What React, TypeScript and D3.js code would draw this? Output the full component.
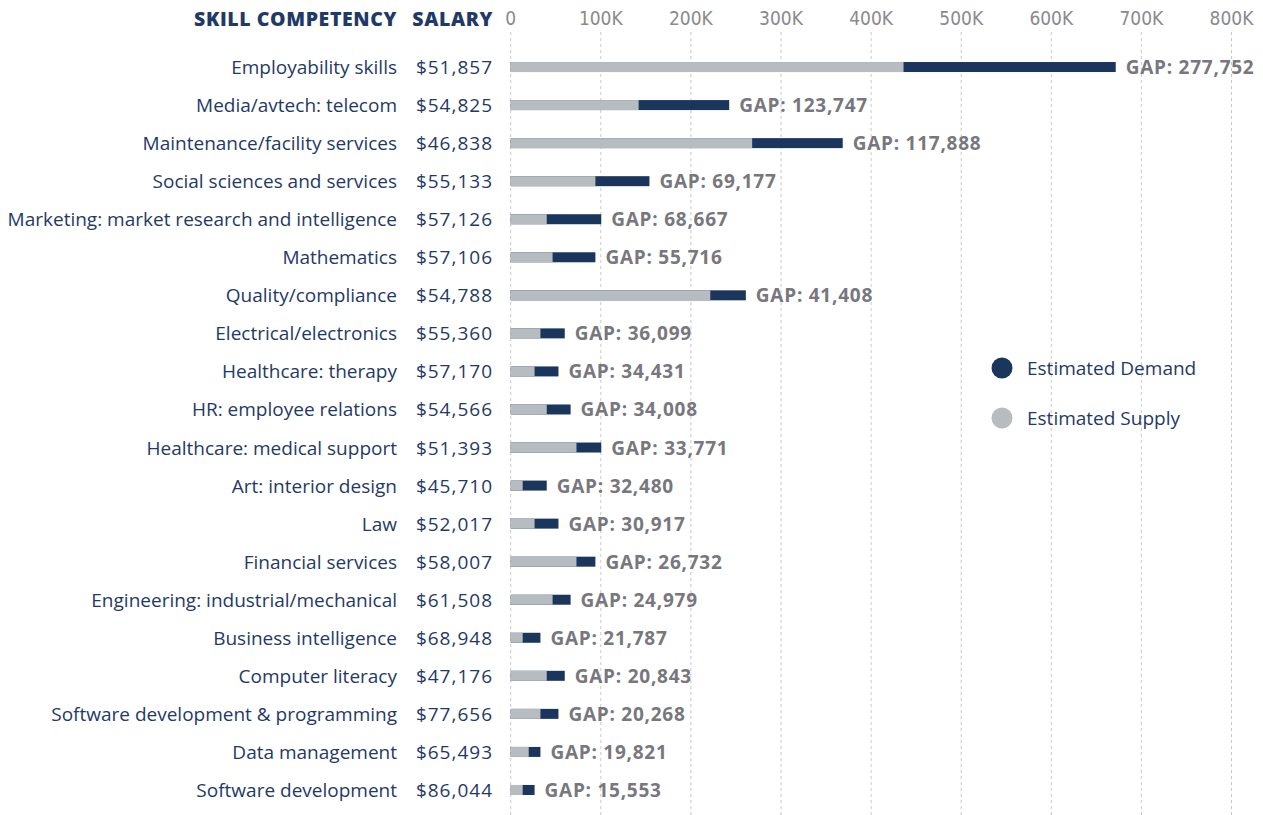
import React from "react";
import * as d3 from "d3";

const categories = [
  "Employability skills",
  "Media/avtech: telecom",
  "Maintenance/facility services",
  "Social sciences and services",
  "Marketing: market research and intelligence",
  "Mathematics",
  "Quality/compliance",
  "Electrical/electronics",
  "Healthcare: therapy",
  "HR: employee relations",
  "Healthcare: medical support",
  "Art: interior design",
  "Law",
  "Financial services",
  "Engineering: industrial/mechanical",
  "Business intelligence",
  "Computer literacy",
  "Software development & programming",
  "Data management",
  "Software development",
];

const salaries = [
  "$51,857", "$54,825", "$46,838", "$55,133", "$57,126", "$57,106", "$54,788",
  "$55,360", "$57,170", "$54,566", "$51,393", "$45,710", "$52,017", "$58,007",
  "$61,508", "$68,948", "$47,176", "$77,656", "$65,493", "$86,044",
];

const supply = [
  436000, 142000, 268000, 94000, 40000, 46500, 221500, 33000, 26500, 40000,
  73000, 13300, 26500, 73000, 46500, 13300, 40000, 33000, 20000, 13300,
];

const demand = [
  671500, 242500, 368500, 154000, 100500, 94000, 261000, 60000, 53000, 66500,
  100500, 40000, 53000, 94000, 66500, 33000, 60000, 53000, 33000, 26500,
];

const gaps = [
  277752, 123747, 117888, 69177, 68667, 55716, 41408, 36099, 34431, 34008,
  33771, 32480, 30917, 26732, 24979, 21787, 20843, 20268, 19821, 15553,
];

const ticks = [0, 100000, 200000, 300000, 400000, 500000, 600000, 700000, 800000];

const legendItems = [
  { label: "Estimated Demand", color: "#1b365d" },
  { label: "Estimated Supply", color: "#b7bcc0" },
];

const W = 1263;
const H = 815;
const NAVY = "#1b365d";
const GRAY = "#b7bcc0";
const LABEL = "#1f3a66";
const GAPC = "#77777d";
const FONT = "'Open Sans', Lato, sans-serif";

export default function App() {
  const x = d3.scaleLinear().domain([0, 800000]).range([510.7, 1231.5]);
  const y = d3
    .scaleBand<number>()
    .domain(d3.range(categories.length))
    .range([48, 809])
    .paddingInner(0)
    .paddingOuter(0);
  const bh = 10;
  const fmt = d3.format(",");
  const tickFmt = (v: number) => (v === 0 ? "0" : `${v / 1000}K`);

  return (
    <svg
      width={W}
      height={H}
      style={{ position: "absolute", left: 0, top: 0, background: "#fff" }}
      fontFamily={FONT}
    >
      {ticks.map((t) => (
        <line
          key={"g" + t}
          x1={x(t)}
          x2={x(t)}
          y1={32}
          y2={H}
          stroke="#c8c8c8"
          strokeWidth={1}
          strokeDasharray="3,3"
        />
      ))}
      {ticks.map((t) => (
        <text
          key={"t" + t}
          x={x(t)}
          y={18}
          textAnchor="middle"
          dominantBaseline="central"
          fill="#8a8a8e"
          fontSize={19}
          fontFamily="'DejaVu Sans Condensed', 'Liberation Sans Narrow', sans-serif"
          style={{ fontStretch: "condensed" }}
        >
          {tickFmt(t)}
        </text>
      ))}
      <text x={397} y={18} textAnchor="end" dominantBaseline="central" fill={LABEL} fontSize={19.5} fontWeight={800} letterSpacing={0.6}>
        SKILL COMPETENCY
      </text>
      <text x={493} y={18} textAnchor="end" dominantBaseline="central" fill={LABEL} fontSize={19.5} fontWeight={800} letterSpacing={0.6}>
        SALARY
      </text>
      {categories.map((c, i) => {
        const cy = (y(i) as number) + y.bandwidth() / 2;
        return (
          <g key={c}>
            <text x={397} y={cy} textAnchor="end" dominantBaseline="central" fill={LABEL} fontSize={19}>
              {c}
            </text>
            <text x={493} y={cy} textAnchor="end" dominantBaseline="central" fill={LABEL} fontSize={19} letterSpacing={1}>
              {salaries[i]}
            </text>
            <rect x={x(0)} y={cy - bh / 2} width={x(demand[i]) - x(0)} height={bh} fill={NAVY} />
            <rect x={x(0)} y={cy - bh / 2} width={x(supply[i]) - x(0)} height={bh} fill={GRAY} />
            <text
              x={x(demand[i]) + 10}
              y={cy}
              dominantBaseline="central"
              fill={GAPC}
              fontSize={19}
              fontWeight={700}
              letterSpacing={0.75}
            >
              {`GAP: ${fmt(gaps[i])}`}
            </text>
          </g>
        );
      })}
      {legendItems.map((l, i) => (
        <g key={l.label} transform={`translate(1002, ${368 + i * 50})`}>
          <circle r={10.5} fill={l.color} />
          <text x={25} y={0} dominantBaseline="central" fill={LABEL} fontSize={19}>
            {l.label}
          </text>
        </g>
      ))}
    </svg>
  );
}
